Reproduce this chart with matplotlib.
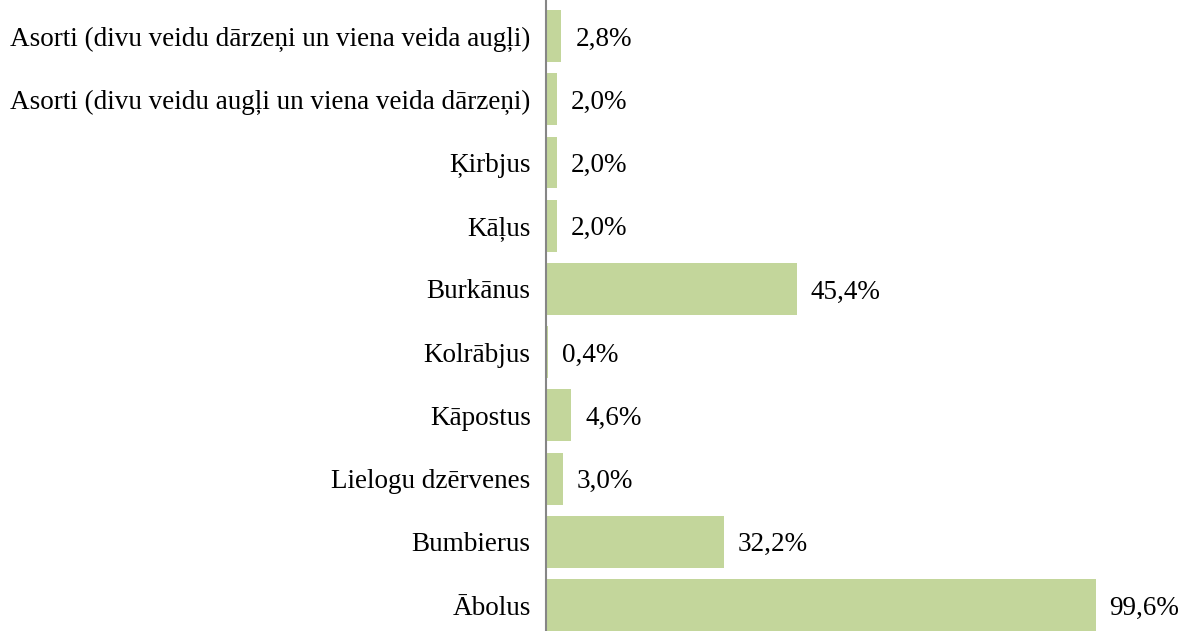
import matplotlib
matplotlib.use("Agg")
import matplotlib.pyplot as plt

# data, bottom to top as drawn
categories = [
    "Ābolus",
    "Bumbierus",
    "Lielogu dzērvenes",
    "Kāpostus",
    "Kolrābjus",
    "Burkānus",
    "Kāļus",
    "Ķirbjus",
    "Asorti (divu veidu augļi un viena veida dārzeņi)",
    "Asorti (divu veidu dārzeņi un viena veida augļi)",
]
values = [99.6, 32.2, 3.0, 4.6, 0.4, 45.4, 2.0, 2.0, 2.0, 2.8]

plt.rcParams['font.family'] = ['Liberation Serif', 'DejaVu Serif']

fig = plt.figure(figsize=(11.89, 6.31), dpi=100)
ax = fig.add_axes([546 / 1189, 0.0, 1 - 546 / 1189, 1.0])

y = list(range(len(categories)))
ax.barh(y, values, height=0.82, color='#C3D69B', zorder=2)

for yi, v in zip(y, values):
    label = f"{v:.1f}%".replace(".", ",")
    ax.annotate(label, (v, yi), xytext=(10, 0), textcoords='offset points',
                va='center_baseline', ha='left', fontsize=19.5)

ax.set_yticks(y)
ax.set_yticklabels(categories, fontsize=19.5, va='center_baseline')
ax.tick_params(axis='y', length=0, pad=11)
ax.set_xticks([])
ax.set_xlim(0, 116.5)
ax.set_ylim(-0.41, 9.57)

for side in ['top', 'right', 'bottom']:
    ax.spines[side].set_visible(False)
ax.spines['left'].set_color('#868686')
ax.spines['left'].set_linewidth(1.5)

fig.savefig("out.png", dpi=100)
